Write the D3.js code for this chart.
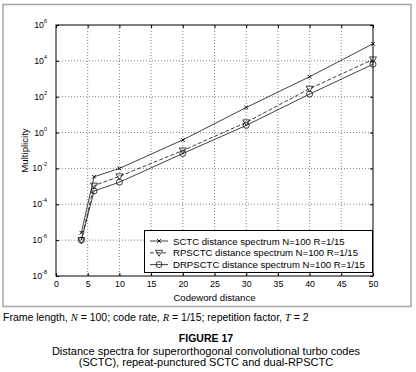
<!DOCTYPE html>
<html>
<head>
<meta charset="utf-8">
<script src="https://cdn.jsdelivr.net/npm/d3@7"></script>
<style>
  body { margin: 0; background: #fff; }
  svg { display: block; font-family: "Liberation Sans", Arial, sans-serif; }
</style>
</head>
<body>
<div id="chart"></div>
<script>
// codeword distances and multiplicities
const distances = [4, 6, 10, 20, 30, 40, 50];
const sctc = [2.6e-6, 3.4e-3, 1e-2, 0.39, 25, 1.3e3, 9e4];
const rpsctc = [1e-6, 1.1e-3, 3.6e-3, 0.1, 3.7, 2.8e2, 1.2e4];
const drpsctc = [1e-6, 5.5e-4, 1.7e-3, 0.068, 2.5, 1.4e2, 6.5e3];

const xTicks = [0, 5, 10, 15, 20, 25, 30, 35, 40, 45, 50];
const yExponents = [-8, -6, -4, -2, 0, 2, 4, 6];
const seriesNames = [
  'SCTC distance spectrum N=100 R=1/15',
  'RPSCTC distance spectrum N=100 R=1/15',
  'DRPSCTC distance spectrum N=100 R=1/15'
];

const width = 416, height = 372;
const plot = { left: 56, top: 25, right: 373, bottom: 276 };

const svg = d3.select('#chart').append('svg')
  .attr('width', width)
  .attr('height', height);

// outer frame
svg.append('rect')
  .attr('x', 3).attr('y', 4.5)
  .attr('width', 408).attr('height', 302)
  .attr('fill', '#fff')
  .attr('stroke', '#aaa')
  .attr('stroke-width', 1.6);

const x = d3.scaleLinear().domain([0, 50]).range([plot.left, plot.right]);
const y = d3.scaleLog().domain([1e-8, 1e6]).range([plot.bottom, plot.top]);

const g = svg.append('g');

// grid
g.selectAll('.gx').data(xTicks.slice(1, -1)).join('line')
  .attr('x1', d => x(d)).attr('x2', d => x(d))
  .attr('y1', plot.top).attr('y2', plot.bottom)
  .attr('stroke', '#333').attr('stroke-width', 0.6)
  .attr('stroke-dasharray', '1,2');
g.selectAll('.gy').data(yExponents.slice(1, -1)).join('line')
  .attr('x1', plot.left).attr('x2', plot.right)
  .attr('y1', d => y(Math.pow(10, d))).attr('y2', d => y(Math.pow(10, d)))
  .attr('stroke', '#333').attr('stroke-width', 0.6)
  .attr('stroke-dasharray', '1,2');

// axes with inward ticks
const bottomAxis = d3.axisBottom(x).tickValues(xTicks).tickSize(-3).tickPadding(5);
const topAxis = d3.axisTop(x).tickValues(xTicks).tickSize(-3).tickFormat('');
const yVals = yExponents.map(e => Math.pow(10, e));
const leftAxis = d3.axisLeft(y).tickValues(yVals).tickSize(-3).tickFormat('');
const rightAxis = d3.axisRight(y).tickValues(yVals).tickSize(-3).tickFormat('');

function styleAxis(sel) {
  sel.select('.domain').remove();
  sel.selectAll('line').attr('stroke', '#000');
  sel.selectAll('text').attr('font-size', 8.8).attr('fill', '#000')
    .attr('font-family', '"Liberation Sans", Arial, sans-serif');
}

g.append('g').attr('transform', `translate(0,${plot.bottom})`).call(bottomAxis).call(styleAxis);
g.append('g').attr('transform', `translate(0,${plot.top})`).call(topAxis).call(styleAxis);
g.append('g').attr('transform', `translate(${plot.left},0)`).call(leftAxis).call(styleAxis);
g.append('g').attr('transform', `translate(${plot.right},0)`).call(rightAxis).call(styleAxis);

// y tick labels as 10 with superscript exponent
const yl = g.selectAll('.ylab').data(yExponents).join('text')
  .attr('x', plot.left - 9)
  .attr('y', d => y(Math.pow(10, d)) + 3)
  .attr('text-anchor', 'end')
  .attr('font-size', 8.8);
yl.append('tspan').text('10');
yl.append('tspan').attr('font-size', 5.5).attr('dy', -5).text(d => d);

// plot box
g.append('rect')
  .attr('x', plot.left).attr('y', plot.top)
  .attr('width', plot.right - plot.left).attr('height', plot.bottom - plot.top)
  .attr('fill', 'none').attr('stroke', '#000').attr('stroke-width', 1);

// series
const line = d3.line().x((d, i) => x(distances[i])).y(d => y(d));
const dashes = [null, '4,2', null];
[sctc, rpsctc, drpsctc].forEach((vals, k) => {
  g.append('path').datum(vals)
    .attr('d', line)
    .attr('fill', 'none')
    .attr('stroke', '#111')
    .attr('stroke-width', 0.8)
    .attr('stroke-dasharray', dashes[k]);
});

function marker(sel, kind, cx, cy) {
  if (kind === 0) {
    sel.append('path')
      .attr('d', `M${cx - 1.8},${cy - 1.8}L${cx + 1.8},${cy + 1.8}M${cx - 1.8},${cy + 1.8}L${cx + 1.8},${cy - 1.8}`)
      .attr('stroke', '#111').attr('stroke-width', 1);
  } else if (kind === 1) {
    sel.append('path')
      .attr('d', `M${cx - 3.5},${cy - 2.5}L${cx + 3.5},${cy - 2.5}L${cx},${cy + 3.5}Z`)
      .attr('fill', 'none').attr('stroke', '#111').attr('stroke-width', 0.8);
  } else {
    sel.append('circle').attr('cx', cx).attr('cy', cy).attr('r', 3)
      .attr('fill', 'none').attr('stroke', '#111').attr('stroke-width', 0.8);
  }
}

[sctc, rpsctc, drpsctc].forEach((vals, k) => {
  vals.forEach((v, i) => marker(g, k, x(distances[i]), y(v)));
});

// legend
const lg = { x: 144, y: 230, w: 228, h: 42 };
g.append('rect')
  .attr('x', lg.x + 0.5).attr('y', lg.y + 0.5)
  .attr('width', lg.w).attr('height', lg.h)
  .attr('fill', '#fff').attr('stroke', '#000').attr('stroke-width', 1);
seriesNames.forEach((name, k) => {
  const ry = lg.y + 11 + k * 11.8;
  g.append('line')
    .attr('x1', lg.x + 6).attr('x2', lg.x + 24)
    .attr('y1', ry).attr('y2', ry)
    .attr('stroke', '#111').attr('stroke-width', 0.8)
    .attr('stroke-dasharray', dashes[k]);
  marker(g, k, lg.x + 15, ry);
  g.append('text')
    .attr('x', lg.x + 29).attr('y', ry + 3.5)
    .attr('font-size', 9.6)
    .text(name);
});

// axis titles
svg.append('text')
  .attr('x', (plot.left + plot.right) / 2).attr('y', 301)
  .attr('text-anchor', 'middle').attr('font-size', 9.6)
  .text('Codeword distance');
svg.append('text')
  .attr('transform', `translate(28,${(plot.top + plot.bottom) / 2}) rotate(-90)`)
  .attr('text-anchor', 'middle').attr('font-size', 9.6)
  .text('Multiplicity');

// caption
const cap = svg.append('text').attr('x', 3).attr('y', 321).attr('font-size', 10.5);
cap.append('tspan').text('Frame length, ');
cap.append('tspan').attr('font-family', '"Liberation Serif", serif').attr('font-style', 'italic').text('N');
cap.append('tspan').text(' = 100; code rate, ');
cap.append('tspan').attr('font-family', '"Liberation Serif", serif').attr('font-style', 'italic').text('R');
cap.append('tspan').text(' = 1/15; repetition factor, ');
cap.append('tspan').attr('font-family', '"Liberation Serif", serif').attr('font-style', 'italic').text('T');
cap.append('tspan').text(' = 2');

svg.append('text')
  .attr('x', width / 2 - 2).attr('y', 342)
  .attr('text-anchor', 'middle').attr('font-size', 10.5).attr('font-weight', 'bold')
  .text('FIGURE 17');
svg.append('text')
  .attr('x', width / 2 - 2).attr('y', 355)
  .attr('text-anchor', 'middle').attr('font-size', 11)
  .text('Distance spectra for superorthogonal convolutional turbo codes');
svg.append('text')
  .attr('x', width / 2 - 2).attr('y', 366)
  .attr('text-anchor', 'middle').attr('font-size', 11)
  .text('(SCTC), repeat-punctured SCTC and dual-RPSCTC');
</script>
</body>
</html>
